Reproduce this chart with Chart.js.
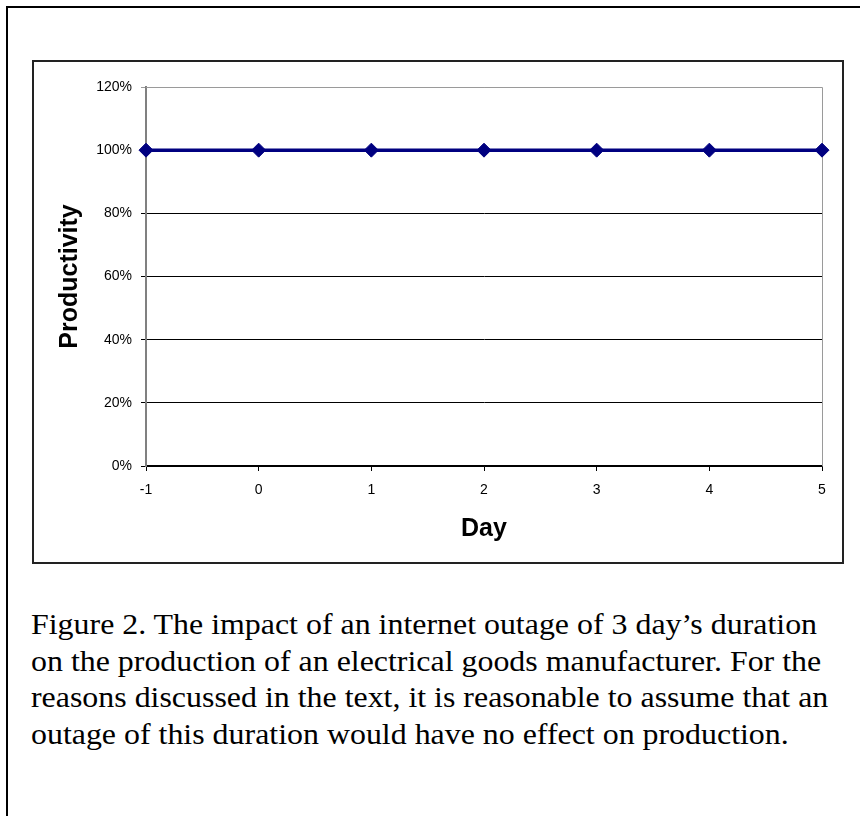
<!DOCTYPE html>
<html>
<head>
<meta charset="utf-8">
<script src="https://cdn.jsdelivr.net/npm/chart.js@4"></script>
<style>
  html, body { margin: 0; padding: 0; background: #fff; }
  #page { position: relative; width: 860px; height: 816px; overflow: hidden; }
  #outer { position: absolute; left: 6px; top: 6px; width: 900px; height: 900px; border: 2px solid #000; }
  #box { position: absolute; left: 32px; top: 60px; width: 808px; height: 500px; border: 2px solid #222; }
  #wrap { position: absolute; left: 34px; top: 62px; width: 808px; height: 500px; }
  #caption {
    position: absolute; left: 31px; top: 606px; white-space: nowrap;
    font-family: "Liberation Serif", "Times New Roman", serif; font-size: 29px; line-height: 36.5px; color: #000;
    transform: scaleX(1.1); transform-origin: 0 0;
  }
</style>
</head>
<body>
<div id="page">
  <div id="outer"></div>
  <div id="box"></div>
  <div id="wrap"><canvas id="productivityChart" width="808" height="500"></canvas></div>
  <div id="caption">
    Figure 2. The impact of an internet outage of 3 day’s duration<br>
    on the production of an electrical goods manufacturer. For the<br>
    reasons discussed in the text, it is reasonable to assume that an<br>
    outage of this duration would have no effect on production.
  </div>
</div>
<script>
// datos del grafico
const days = ['-1', '0', '1', '2', '3', '4', '5'];
const productivity = [1, 1, 1, 1, 1, 1, 1];
const yTicks = [0, 0.2, 0.4, 0.6, 0.8, 1.0, 1.2];

// borde gris arriba y a la derecha del area de trazado
const plotFrame = {
    id: 'plotFrame',
    beforeDatasetsDraw(chart) {
        const { ctx, chartArea: a } = chart;
        ctx.save();
        ctx.strokeStyle = '#9a9a9a';
        ctx.lineWidth = 1;
        ctx.beginPath();
        ctx.moveTo(a.left, a.top + 0.5);
        ctx.lineTo(a.right + 0.5, a.top + 0.5);
        ctx.lineTo(a.right + 0.5, a.bottom);
        ctx.stroke();
        ctx.restore();
    }
};

const ctx = document.getElementById('productivityChart').getContext('2d');
new Chart(ctx, {
    type: 'line',
    data: {
        labels: days,
        datasets: [{
            label: 'Productivity',
            data: productivity,
            borderColor: '#000080',
            backgroundColor: '#000080',
            borderWidth: 3.5,
            pointStyle: 'rectRot',
            pointRadius: 7,
            pointBorderWidth: 1,
            pointBackgroundColor: '#000080',
            pointBorderColor: '#000080',
            tension: 0,
            fill: false
        }]
    },
    options: {
        responsive: false,
        animation: false,
        layout: { padding: { top: 25, right: 20, left: 0, bottom: 0 } },
        plugins: { legend: { display: false }, tooltip: { enabled: false } },
        scales: {
            x: {
                type: 'category',
                offset: false,
                afterFit: s => { s.height = 96; },
                grid: { drawOnChartArea: false, drawTicks: true, tickLength: 5, color: '#000', lineWidth: 1 },
                border: { color: '#000', width: 1.5 },
                ticks: {
                    color: '#000', padding: 11, maxRotation: 0,
                    font: { family: "'Liberation Sans', Arial, sans-serif", size: 14 }
                },
                title: {
                    display: true, text: 'Day', color: '#000',
                    padding: { top: 0, bottom: 18 },
                    font: { family: "'Liberation Sans', Arial, sans-serif", size: 25, weight: 'bold' }
                }
            },
            y: {
                min: 0, max: 1.2,
                afterFit: s => { s.width = 112; },
                afterBuildTicks: s => { s.ticks = yTicks.map(v => ({ value: v })); },
                grid: {
                    drawTicks: true, tickLength: 5, lineWidth: 1,
                    color: c => (c.tick && c.tick.value === 1.2) ? '#9a9a9a' : '#000'
                },
                border: { color: '#808080', width: 2 },
                ticks: {
                    color: '#000', padding: 9,
                    font: { family: "'Liberation Sans', Arial, sans-serif", size: 14 },
                    callback: v => Math.round(v * 100) + '%'
                },
                title: {
                    display: true, text: 'Productivity', color: '#000',
                    padding: { top: 21, bottom: 0 },
                    font: { family: "'Liberation Sans', Arial, sans-serif", size: 25, weight: 'bold' }
                }
            }
        }
    },
    plugins: [plotFrame]
});
</script>
</body>
</html>
